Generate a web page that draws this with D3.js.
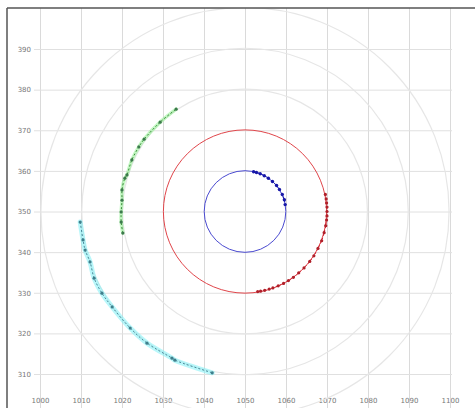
<!DOCTYPE html>
<html><head><meta charset="utf-8">
<script src="https://cdn.jsdelivr.net/npm/d3@7"></script>
<style>body{margin:0;background:#fff}svg{display:block}</style>
</head><body>
<script>
// ---- data ----
const xTicks = [1000,1010,1020,1030,1040,1050,1060,1070,1080,1090,1100];
const yTicks = [310,320,330,340,350,360,370,380,390];
const center = [1050, 350];
const refRadii = [30, 40, 50];
const blueRadius = 10, redRadius = 20;
const blueX = [1052.1,1052.8,1053.7,1054.7,1055.7,1056.7,1057.7,1058.4,1059.1,1059.6,1059.8];
const blueY = [359.8,359.6,359.3,358.8,358.2,357.4,356.4,355.4,354.2,352.9,351.7];
const redX = [1069.6,1069.8,1069.9,1070.0,1070.0,1070.0,1069.9,1069.7,1069.3,1068.7,1067.8,1066.8,1065.8,1064.4,1063.1,1061.8,1060.6,1059.4,1058.1,1056.8,1055.9,1054.8,1053.8,1053.1];
const redY = [354.2,353.1,352.1,351.1,350.0,348.9,347.9,346.5,344.8,342.8,340.9,339.1,337.7,336.1,334.9,333.8,333.0,332.3,331.7,331.2,330.9,330.6,330.4,330.3];
const greenX = [1020.2,1019.8,1019.8,1020.0,1020.0,1020.7,1021.2,1022.4,1024.1,1025.4,1029.3,1033.2];
const greenY = [344.7,347.4,349.9,352.8,355.3,358.2,359.0,362.7,365.9,367.8,372.0,375.2];
const cyanX = [1009.8,1010.5,1011.0,1012.2,1013.2,1015.1,1017.6,1022.0,1026.1,1032.2,1032.9,1042.0];
const cyanY = [347.4,343.0,340.5,337.6,333.6,329.9,326.5,321.3,317.6,313.9,313.4,310.3];

const W = 475, H = 408;
const svg = d3.select("body").append("svg").attr("width", W).attr("height", H);
const x = d3.scaleLinear().domain([1000, 1100]).range([40, 450]);
const y = d3.scaleLinear().domain([310, 390]).range([374, 49]);
const plot = {x0: 7, y0: 8, x1: 480, y1: 420};

svg.append("defs").append("clipPath").attr("id","clip")
  .append("rect").attr("x", plot.x0).attr("y", plot.y0)
  .attr("width", plot.x1 - plot.x0).attr("height", plot.y1 - plot.y0);

// grid via axes
const gx = svg.append("g").attr("transform", `translate(0,${H+3})`)
  .call(d3.axisBottom(x).tickValues(xTicks).tickSize(-(H+3-plot.y0)).tickPadding(-13).tickFormat(d3.format("d")));
gx.select(".domain").remove();
gx.selectAll("line").attr("stroke", "#dadada");
gx.selectAll("text").attr("fill", "#777").attr("font-size", 7).attr("font-family", "DejaVu Sans, sans-serif");

const gy = svg.append("g").attr("transform", `translate(34,0)`)
  .call(d3.axisLeft(y).tickValues(yTicks).tickSize(-(452-34)).tickPadding(3).tickFormat(d3.format("d")));
gy.select(".domain").remove();
gy.selectAll("line").attr("stroke", "#e0e0e0");
gy.selectAll("text").attr("fill", "#777").attr("font-size", 7).attr("font-family", "DejaVu Sans, sans-serif");

const cx = x(center[0]), cy = y(center[1]);
const rpx = r => (x(center[0] + r) - x(center[0]) + y(center[1]) - y(center[1] + r)) / 2;
const g = svg.append("g").attr("clip-path", "url(#clip)");

g.selectAll("circle.ref").data(refRadii).join("circle").attr("class","ref")
  .attr("cx", cx).attr("cy", cy).attr("r", d => rpx(d))
  .attr("fill", "none").attr("stroke", "#e6e6e6").attr("stroke-width", 1.2);

g.append("circle").attr("cx", cx).attr("cy", cy).attr("r", rpx(redRadius))
  .attr("fill", "none").attr("stroke", "#e0454a").attr("stroke-width", 1);
g.append("circle").attr("cx", cx).attr("cy", cy).attr("r", rpx(blueRadius))
  .attr("fill", "none").attr("stroke", "#4a4ad0").attr("stroke-width", 1);

const line = d3.line().x(d => x(d[0])).y(d => y(d[1])).curve(d3.curveCatmullRom);
function series(xs, ys, glow, glowW, lineCol, dotCol, dotR) {
  const pts = xs.map((v, i) => [v, ys[i]]);
  if (glow) g.append("path").attr("d", line(pts)).attr("fill","none")
    .attr("stroke", glow).attr("stroke-width", glowW).attr("stroke-opacity", 0.55).attr("stroke-linecap","round");
  g.append("path").attr("d", line(pts)).attr("fill","none")
    .attr("stroke", lineCol).attr("stroke-width", 1).attr("stroke-dasharray","2,2");
  g.selectAll(null).data(pts).join("circle")
    .attr("cx", d => x(d[0])).attr("cy", d => y(d[1])).attr("r", dotR).attr("fill", dotCol);
}
series(cyanX, cyanY, "#7ff0f5", 5, "#4a8a9a", "#3f7f8c", 1.6);
series(greenX, greenY, "#8ff08f", 3.5, "#3a8a3a", "#3c7a4c", 1.6);
series(redX, redY, null, 0, "#d02030", "#b0202a", 1.6);
series(blueX, blueY, null, 0, "#1a1ab0", "#1818a8", 1.7);

// frame (left and top edges)
svg.append("line").attr("x1", plot.x0).attr("x2", plot.x0).attr("y1", plot.y0).attr("y2", H)
  .attr("stroke", "#555").attr("stroke-width", 1.5);
svg.append("line").attr("x1", plot.x0).attr("x2", W).attr("y1", plot.y0).attr("y2", plot.y0)
  .attr("stroke", "#555").attr("stroke-width", 1.5);
</script>
</body></html>
